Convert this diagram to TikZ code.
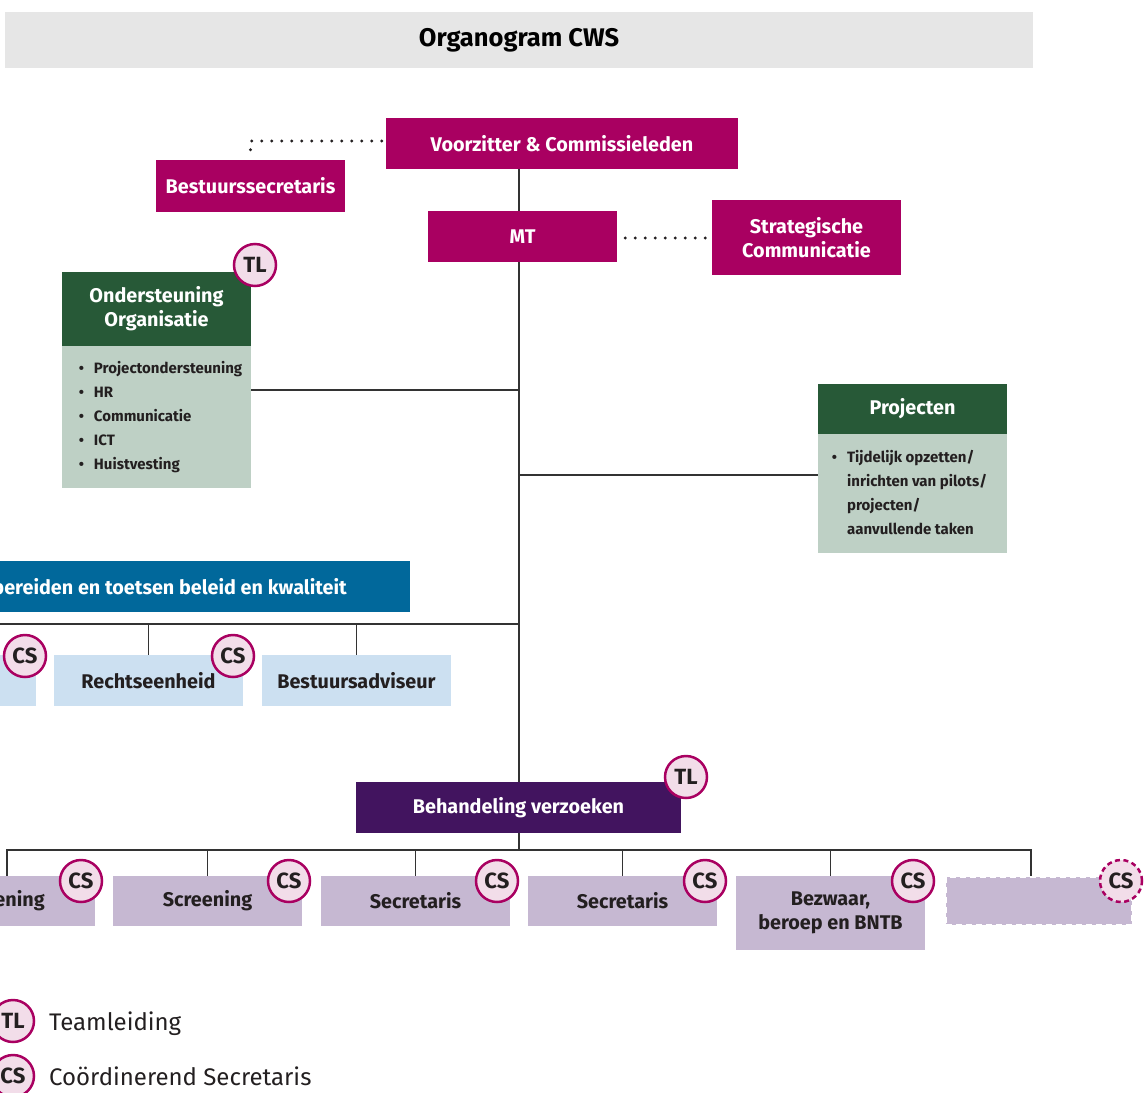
\documentclass[tikz,border=0pt]{standalone}
\usepackage{fontspec}
\setmainfont{Fira Sans}
\definecolor{romag}{HTML}{A90061}
\definecolor{rogreen}{HTML}{275937}
\definecolor{rolgreen}{HTML}{BED0C5}
\definecolor{roblue}{HTML}{01689B}
\definecolor{rolblue}{HTML}{CCE0F1}
\definecolor{ropurple}{HTML}{42145F}
\definecolor{rolpurple}{HTML}{C6B8D2}
\definecolor{ropink}{HTML}{F2DDE9}
\definecolor{rogray}{HTML}{E6E6E6}
\definecolor{roink}{HTML}{231F20}
\definecolor{roline}{HTML}{333333}
\begin{document}
\begin{tikzpicture}[x=1pt,y=-1pt,
  box/.style={minimum width=189, minimum height=51, inner sep=0, align=center,
    font=\fontsize{19.8}{24}\selectfont\bfseries},
  magbox/.style={box, fill=romag, text=white},
  greenhead/.style={box, fill=rogreen, text=white},
  greenbody/.style={box, fill=rolgreen, text=roink, font=\fontsize{15}{24}\selectfont\bfseries},
  bluebox/.style={box, fill=rolblue, text=roink},
  purplebox/.style={box, fill=rolpurple, text=roink},
  badge/.style={circle, draw=romag, fill=ropink, line width=2.5, minimum size=42, inner sep=0,
    text=roink, font=\fontsize{22}{22}\selectfont\bfseries},
  conn/.style={draw=roline, line width=1.6},
  dots/.style={draw=roink, line width=3.3, line cap=round, dash pattern=on 0pt off 10pt},
]
\useasboundingbox (0,0) rectangle (1144,1093);
\clip (0,0) rectangle (1144,1093);

% title
\node[fill=rogray, minimum width=1028, minimum height=56, inner sep=0,
  font=\fontsize{25.5}{30}\selectfont\bfseries, text=black] (title) at (519,40) {Organogram CWS};

% top nodes
\node[magbox, minimum width=352] (vz) at (562,143.5) {Voorzitter \& Commissieleden};
\node[magbox, minimum height=52] (bs) at (250.5,186) {Bestuurssecretaris};
\node[magbox] (mt) at (522.5,236.5) {MT};
\node[magbox, minimum height=75] (sc) at (806.5,237.5) {Strategische\\Communicatie};

% Ondersteuning
\node[greenhead, minimum height=74] (ooh) at (156.5,309) {Ondersteuning\\Organisatie};
\node[greenbody, minimum height=142] (oob) at (156.5,417) {%
  \hspace*{8pt}\begin{tabular}{@{}l@{\hspace{10pt}}l@{}}
  \textbullet & Projectondersteuning\\
  \textbullet & HR\\
  \textbullet & Communicatie\\
  \textbullet & ICT\\
  \textbullet & Huistvesting
  \end{tabular}};
\node[badge] (tl1) at (255,265) {TL};

% Projecten
\node[greenhead, minimum height=50] (prh) at (912.5,409) {Projecten};
\node[greenbody, minimum height=119] (prb) at (912.5,493.5) {%
  \begin{tabular}{@{}l@{\hspace{10pt}}l@{}}
  \textbullet & Tijdelijk opzetten/\\
   & inrichten van pilots/\\
   & projecten/\\
   & aanvullende taken
  \end{tabular}\hspace*{6pt}};

% Blue section
\node[box, fill=roblue, text=white, anchor=east, inner xsep=63, minimum height=51]
  (vb) at (410,586.5) {Voorbereiden en toetsen beleid en kwaliteit};
\node[bluebox] (bl) at (-59,680.5) {};
\node[bluebox] (re) at (148.5,680.5) {Rechtseenheid};
\node[bluebox] (bsa) at (356.5,680.5) {Bestuursadviseur};
\node[badge] (cs1) at (25,656) {CS};
\node[badge] (cs2) at (233,656) {CS};

% Behandeling
\node[box, fill=ropurple, text=white, minimum width=325] (bv) at (518.5,807.5) {Behandeling verzoeken};
\node[badge] (tl2) at (686,777) {TL};

\node[purplebox, minimum height=50] (s1) at (0,901) {Screening};
\node[purplebox, minimum height=50] (s2) at (207.5,901) {Screening};
\node[purplebox, minimum height=50] (se1) at (415.5,901) {Secretaris};
\node[purplebox, minimum height=50] (se2) at (622.5,901) {Secretaris};
\node[purplebox, minimum height=74] (bz) at (830.5,913) {Bezwaar,\\beroep en BNTB};
\node[purplebox, minimum width=186, minimum height=48, draw=white, line width=2,
  dash pattern=on 6pt off 4pt] (dx) at (1039,901) {};
\node[badge] (cs3) at (81,881) {CS};
\node[badge] (cs4) at (289,881) {CS};
\node[badge] (cs5) at (497,881) {CS};
\node[badge] (cs6) at (705,881) {CS};
\node[badge] (cs7) at (913,881) {CS};
\node[badge, dash pattern=on 5pt off 3.5pt] (cs8) at (1121,881) {CS};

% connectors
\coordinate (spine) at (519,0);
\coordinate (j1) at (519,390);
\coordinate (j2) at (519,475);
\coordinate (b0) at (519,624);
\coordinate (c0) at (519,850);
\coordinate (t1) at (7,850);
\coordinate (t6) at (1031,850);
\coordinate (vzd) at ([xshift=-4pt,yshift=2.5pt]vz.west);
\coordinate (bsd) at ([yshift=5pt]bs.north);
\coordinate (mtd) at ([xshift=8pt,yshift=-1.5pt]mt.east);
\coordinate (scd) at ([xshift=-2pt]sc.west);

\draw[conn] (vz.south -| spine) -- (mt.north -| spine);
\draw[conn] (mt.south -| spine) -- (bv.north -| spine);
\draw[conn] (oob.east |- j1) -- (j1);
\draw[conn] (j2) -- (prb.west |- j2);
\draw[conn] (b0) -- (bl.north |- b0) -- (bl.north);
\draw[conn] (re.north |- b0) -- (re.north);
\draw[conn] (bsa.north |- b0) -- (bsa.north);
\draw[conn] (bv.south -| spine) -- (c0);
\draw[conn] (s1.north -| t1) -- (t1) -- (t6) -- (dx.north -| t6);
\draw[conn] (s2.north |- c0) -- (s2.north);
\draw[conn] (se1.north |- c0) -- (se1.north);
\draw[conn] (se2.north |- c0) -- (se2.north);
\draw[conn] (bz.north |- c0) -- (bz.north);

\draw[dots] (vzd) -| (bsd);
\draw[dots] (mtd) -- (scd |- mtd);

% legend
\node[badge] (ltl) at (13,1021) {TL};
\node[badge] (lcs) at (13,1076) {CS};
\node[anchor=west, inner sep=0, font=\fontsize{24}{28}\selectfont, text=roink] (ltlt) at (49,1024) {Teamleiding};
\node[anchor=west, inner sep=0, font=\fontsize{24}{28}\selectfont, text=roink] (lcst) at (49,1076) {Coördinerend Secretaris};
\end{tikzpicture}
\end{document}
